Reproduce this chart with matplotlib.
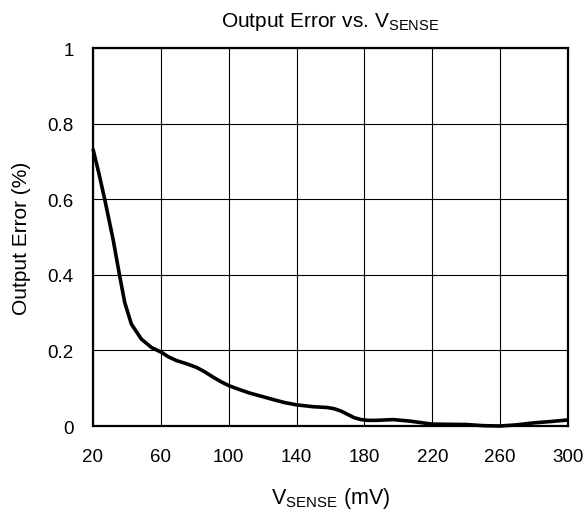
import matplotlib
matplotlib.use("Agg")
import matplotlib.pyplot as plt

plt.rcParams['font.family'] = ['Liberation Sans', 'DejaVu Sans']
plt.rcParams['mathtext.fontset'] = 'custom'
plt.rcParams['mathtext.rm'] = 'Liberation Sans'

vsense = [20, 23.5, 26.9, 31.8, 35.7, 38.7, 42.6, 48.5, 54.4, 60.3, 64.5, 69.3, 75, 81.1,
          86, 90.9, 95.5, 100, 106, 112.5, 119, 126.2, 133, 140, 150, 158, 162, 166,
          170, 174, 178, 182, 187, 196.9, 206.8, 219.9, 240, 249.9, 259.8, 269.6, 279, 290, 300]
error = [0.733, 0.668, 0.600, 0.495, 0.398, 0.327, 0.270, 0.230, 0.208, 0.195, 0.183,
         0.173, 0.165, 0.155, 0.143, 0.129, 0.117, 0.107, 0.097, 0.087, 0.079, 0.070,
         0.062, 0.056, 0.051, 0.049, 0.046, 0.040, 0.031, 0.022, 0.017, 0.015, 0.015,
         0.017, 0.013, 0.005, 0.004, 0.001, 0.0, 0.003, 0.008, 0.012, 0.016]

xticks = [20, 60, 100, 140, 180, 220, 260, 300]
yticks = [0, 0.2, 0.4, 0.6, 0.8, 1]
yticklabels = ['0', '0.2', '0.4', '0.6', '0.8', '1']

fig = plt.figure(figsize=(5.87, 5.10), dpi=100)
ax = fig.add_axes([0.1584, 0.1627, 0.8092, 0.7412])
ax.plot(vsense, error, color='black', lw=2.6, solid_joinstyle='round',
        solid_capstyle='butt', zorder=3, clip_on=False)
ax.set_xlim(20, 300)
ax.set_ylim(0, 1)
ax.set_xticks(xticks)
ax.set_yticks(yticks)
ax.set_yticklabels(yticklabels)
ax.grid(True, color='black', lw=0.8)
ax.tick_params(length=0, labelsize=13.5)
ax.tick_params(axis='y', pad=14)
ax.tick_params(axis='x', pad=16)
for s in ax.spines.values():
    s.set_linewidth(1.6)
    s.set_color('black')
ax.set_title(r'Output Error vs. V$_{\mathregular{SENSE}}$', fontsize=15, pad=16)
ax.set_xlabel(r'V$_{\mathregular{SENSE}}$ (mV)', fontsize=15.5, labelpad=14)
ax.set_ylabel('Output Error (%)', fontsize=15, labelpad=12)
fig.savefig('out.png', dpi=100)
